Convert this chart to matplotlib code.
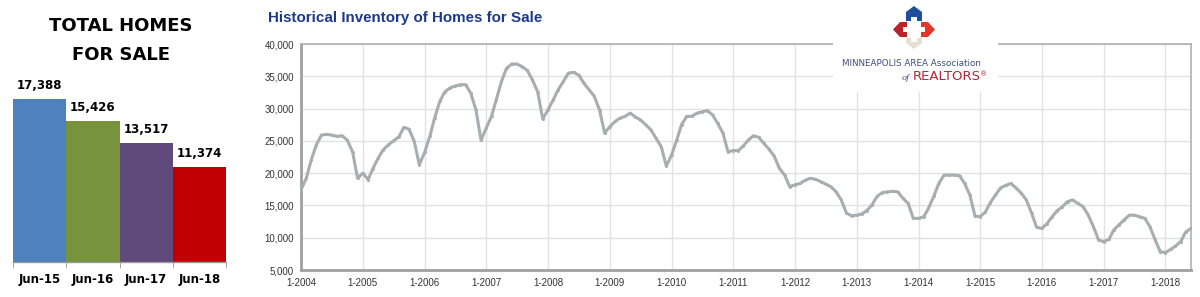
import numpy as np
import pandas as pd
import matplotlib
matplotlib.use("Agg")
import matplotlib.pyplot as plt
from matplotlib.patches import Polygon

# left panel: June inventory
bar_labels = ["Jun-15", "Jun-16", "Jun-17", "Jun-18"]
bar_values = [17388, 15426, 13517, 11374]
bar_colors = ["#4f81bd", "#77933c", "#604a7b", "#c00000"]

# monthly inventory (thousands)
inv_2004 = [17.4, 19.2, 22.0, 24.4, 25.9, 26.0, 25.9, 25.7, 25.8, 25.1, 23.3, 19.2]
inv_2005 = [20.0, 19.0, 20.7, 22.3, 23.6, 24.4, 25.0, 25.6, 27.1, 26.8, 24.9, 21.3]
inv_2006 = [23.2, 25.7, 28.5, 31.1, 32.6, 33.2, 33.5, 33.7, 33.7, 32.4, 29.8, 25.1]
inv_2007 = [27.0, 28.8, 31.35, 34.2, 36.25, 36.9, 36.9, 36.5, 35.9, 34.45, 32.6, 28.4]
inv_2008 = [29.8, 31.35, 32.9, 34.2, 35.5, 35.6, 35.2, 33.9, 32.9, 31.9, 29.8, 26.2]
inv_2009 = [27.2, 28.0, 28.5, 28.8, 29.3, 28.7, 28.25, 27.5, 26.7, 25.4, 24.1, 21.1]
inv_2010 = [22.8, 25.15, 27.5, 28.8, 28.8, 29.3, 29.5, 29.7, 29.0, 27.7, 26.2, 23.3]
inv_2011 = [23.5, 23.5, 24.2, 25.15, 25.8, 25.55, 24.6, 23.7, 22.6, 20.75, 19.7, 17.9]
inv_2012 = [18.2, 18.4, 18.9, 19.2, 19.05, 18.7, 18.3, 17.9, 17.1, 15.85, 13.8, 13.4]
inv_2013 = [13.5, 13.7, 14.2, 15.1, 16.4, 17.0, 17.1, 17.2, 17.1, 16.1, 15.3, 13.0]
inv_2014 = [13.0, 13.25, 14.55, 16.4, 18.4, 19.7, 19.7, 19.7, 19.6, 18.4, 16.6, 13.35]
inv_2015 = [13.25, 14.0, 15.4, 16.6, 17.7, 18.1, 18.4, 17.7, 16.9, 15.85, 13.8, 11.6]
inv_2016 = [11.45, 12.2, 13.25, 14.2, 14.8, 15.6, 15.85, 15.3, 14.8, 13.5, 11.7, 9.65]
inv_2017 = [9.4, 9.75, 11.2, 12.0, 12.75, 13.5, 13.5, 13.25, 13.0, 11.7, 9.65, 7.85]
inv_2018 = [7.7, 8.2, 8.7, 9.4, 10.9, 11.45]

years = list(range(2004, 2019))
y_ticks = [5000, 10000, 15000, 20000, 25000, 30000, 35000, 40000]

inventory = np.array(inv_2004 + inv_2005 + inv_2006 + inv_2007 + inv_2008 +
                     inv_2009 + inv_2010 + inv_2011 + inv_2012 + inv_2013 +
                     inv_2014 + inv_2015 + inv_2016 + inv_2017 + inv_2018) * 1000
months = pd.date_range("2004-01-01", periods=len(inventory), freq="MS")

W, H = 1200, 297
fig = plt.figure(figsize=(12, 2.97), dpi=100)
fig.patch.set_facecolor("white")

def fx(px):
    return px / W

def fy(py):
    return 1 - py / H

# ---- bar chart ----
fig.text(fx(121), fy(26), "TOTAL HOMES", ha="center", va="center",
         fontsize=13, fontweight="bold", family="DejaVu Sans", color="black")
fig.text(fx(121), fy(55), "FOR SALE", ha="center", va="center",
         fontsize=13, fontweight="bold", family="DejaVu Sans", color="black")

axb = fig.add_axes([fx(13), fy(262), fx(226 - 13), (262 - 80) / H])
xb = np.arange(len(bar_values))
axb.bar(xb, bar_values, width=1.0, color=bar_colors)
axb.set_xlim(-0.5, len(bar_values) - 0.5)
axb.set_ylim(3000, 19092)
for s in ["top", "right", "left"]:
    axb.spines[s].set_visible(False)
axb.spines["bottom"].set_color("#999999")
axb.spines["bottom"].set_linewidth(1.0)
axb.set_yticks([])
axb.set_xticks(xb)
axb.set_xticklabels(bar_labels, fontsize=8.5, fontweight="bold", family="DejaVu Sans")
axb.tick_params(axis="x", which="major", length=0, pad=8)
axb.set_xticks(np.arange(-0.5, len(bar_values)), minor=True)
axb.tick_params(axis="x", which="minor", length=4, color="#999999", direction="out")
for xi, v in zip(xb, bar_values):
    axb.annotate(f"{v:,}", (xi, v), xytext=(0, 10), textcoords="offset points",
                 ha="center", va="center", fontsize=8.5, fontweight="bold",
                 family="DejaVu Sans")

# ---- line chart ----
ax = fig.add_axes([fx(301), fy(270), fx(1191 - 301), (270 - 44) / H])
ax.plot(months, inventory, color="#a6aeb2", lw=2.2, marker="o", ms=2.2,
        markeredgewidth=0, zorder=3)
ax.set_xlim(months[0], months[-1])
ax.set_ylim(5000, 40000)
ax.set_yticks(y_ticks)
ax.set_yticklabels([f"{t:,}" for t in y_ticks])
year_ticks = pd.to_datetime([f"{y}-01-01" for y in years])
ax.set_xticks(year_ticks)
ax.set_xticklabels([f"1-{y}" for y in years])
ax.grid(True, color="#e2e2e2", lw=1.0)
ax.set_axisbelow(True)
ax.tick_params(axis="both", length=0, labelsize=7, labelcolor="#333333")
ax.tick_params(axis="y", pad=5)
ax.tick_params(axis="x", pad=6)
for lab in ax.get_xticklabels() + ax.get_yticklabels():
    lab.set_family("Liberation Sans")
ax.spines["left"].set_color("#a0a0a0")
ax.spines["bottom"].set_color("#a0a0a0")
ax.spines["left"].set_linewidth(2.0)
ax.spines["bottom"].set_linewidth(2.0)
ax.spines["top"].set_color("#b0b0b0")
ax.spines["right"].set_color("#b0b0b0")
ax.spines["top"].set_linewidth(1.2)
ax.spines["right"].set_linewidth(1.2)

fig.text(fx(268), fy(18), "Historical Inventory of Homes for Sale", ha="left",
         va="center", fontsize=10.9, fontweight="bold", family="Liberation Sans",
         color="#1d3a8a")

# ---- logo block ----
axl = fig.add_axes([fx(833), fy(92), fx(998 - 833), 92 / H], zorder=5)
axl.set_facecolor("white")
axl.set_xlim(833, 998)
axl.set_ylim(92, 0)
axl.set_xticks([])
axl.set_yticks([])
for s in axl.spines.values():
    s.set_visible(False)

logo_shapes = [
    ([(906, 21), (906, 12), (914, 6), (922, 12), (922, 21), (917, 21), (917, 17), (911, 17), (911, 21)], "#1f4e9c"),
    ([(907, 22), (900, 22), (893, 29.5), (900, 37), (907, 37), (907, 32), (903, 32), (903, 27), (907, 27)], "#b8242a"),
    ([(921, 22), (928, 22), (935, 29.5), (928, 37), (921, 37), (921, 32), (925, 32), (925, 27), (921, 27)], "#e0392b"),
    ([(906, 38), (906, 43), (914, 49), (922, 43), (922, 38), (917, 38), (917, 42), (911, 42), (911, 38)], "#e6e0d2"),
]
for pts, col in logo_shapes:
    axl.add_patch(Polygon(pts, closed=True, facecolor=col, edgecolor="none"))

axl.text(842, 63.5, "MINNEAPOLIS AREA Association", ha="left", va="center",
         fontsize=6.3, color="#3f4d7a", family="DejaVu Sans")
axl.text(910, 78, "of", ha="right", va="center", fontsize=6, style="italic",
         color="#3f4d7a", family="DejaVu Serif")
axl.text(913, 77, "REALTORS", ha="left", va="center", fontsize=9.5,
         color="#b3263a", family="DejaVu Sans")
axl.text(987, 74, "\u00ae", ha="right", va="center", fontsize=5,
         color="#b3263a", family="DejaVu Sans")

fig.savefig("out.png", dpi=100, facecolor="white")
